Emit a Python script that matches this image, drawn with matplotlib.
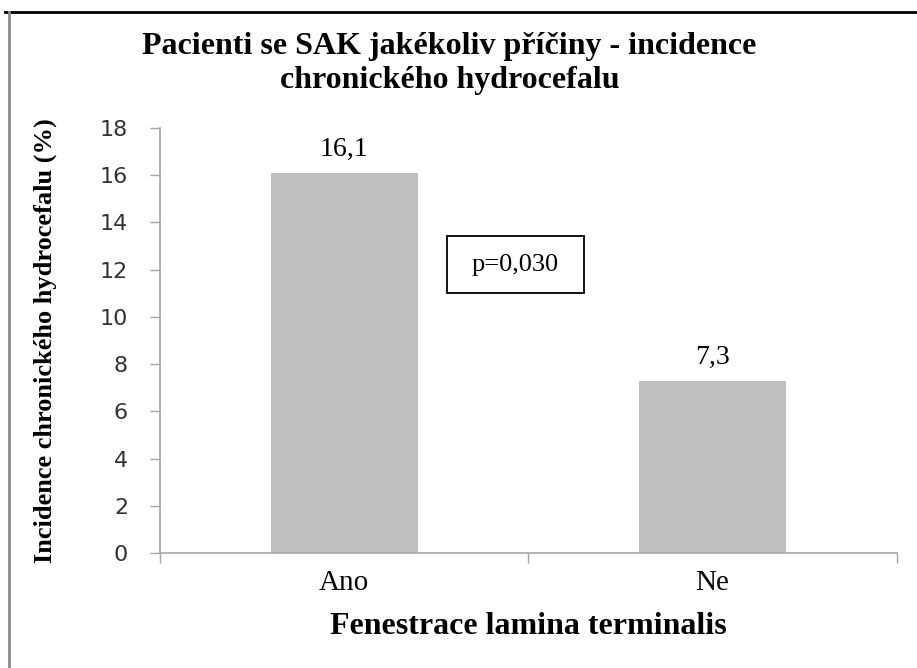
import matplotlib
matplotlib.use("Agg")
import matplotlib.pyplot as plt
from matplotlib.lines import Line2D
from matplotlib.patches import Rectangle
from matplotlib.ticker import FixedLocator

categories = ["Ano", "Ne"]
incidence = [16.1, 7.3]
value_labels = ["16,1", "7,3"]
yticks = [0, 2, 4, 6, 8, 10, 12, 14, 16, 18]
p_text = "p=0,030"

serif = "Liberation Serif"
axis_grey = "#A6A6A6"

fig = plt.figure(figsize=(9.17, 6.68), dpi=100)
ax = fig.add_axes([0.1745, 0.1722, 0.8035, 0.6362])

x = list(range(len(categories)))
ax.bar(x, incidence, width=0.4, color="#BFBFBF", zorder=2)

for xi, v, lab in zip(x, incidence, value_labels):
    ax.annotate(lab, (xi, v), xytext=(0, 12), textcoords="offset points",
                ha="center", va="baseline", fontsize=20, family=serif)

ax.set_xlim(-0.5, 1.5)
ax.set_ylim(0, 18)

ax.set_yticks(yticks)
ax.set_yticklabels([str(t) for t in yticks], family="DejaVu Sans",
                   fontsize=16, color="#333333")
ax.tick_params(axis="y", length=7, width=1, color=axis_grey, pad=16)

# category labels in the middle, tick marks on the boundaries
ax.set_xticks(x)
ax.set_xticklabels(categories, family=serif, fontsize=21)
ax.tick_params(axis="x", which="major", length=0, pad=12)
ax.xaxis.set_minor_locator(FixedLocator([-0.5, 0.5, 1.5]))
ax.tick_params(axis="x", which="minor", length=7, width=1, color=axis_grey)

for side in ("top", "right"):
    ax.spines[side].set_visible(False)
for side in ("left", "bottom"):
    ax.spines[side].set_color(axis_grey)
    ax.spines[side].set_linewidth(1.2)

ax.set_ylabel("Incidence chronického hydrocefalu (%)", family=serif,
              fontsize=19, fontweight="bold")
ax.yaxis.set_label_coords(-0.14, 0.5)
ax.set_xlabel("Fenestrace lamina terminalis", family=serif, fontsize=23,
              fontweight="bold", labelpad=12)

fig.text(0.49, 0.905, "Pacienti se SAK jakékoliv příčiny - incidence\nchronického hydrocefalu",
         ha="center", va="center", family=serif, fontsize=23,
         fontweight="bold", linespacing=1.25)

# p-value box
ax.add_patch(Rectangle((0.28, 11.02), 0.37, 2.41, fc="white", ec="black",
                       lw=1.3, zorder=3))
ax.text(0.465, 12.2, p_text, ha="center", va="center", family=serif,
        fontsize=19, zorder=4)

# chart frame
fig.add_artist(Line2D([0.005, 1.0], [0.982, 0.982], transform=fig.transFigure,
                      color="black", lw=2))
fig.add_artist(Line2D([0.0093, 0.0093], [0.0, 0.982], transform=fig.transFigure,
                      color="#8C8C8C", lw=2))

fig.savefig("out.png", dpi=100)
